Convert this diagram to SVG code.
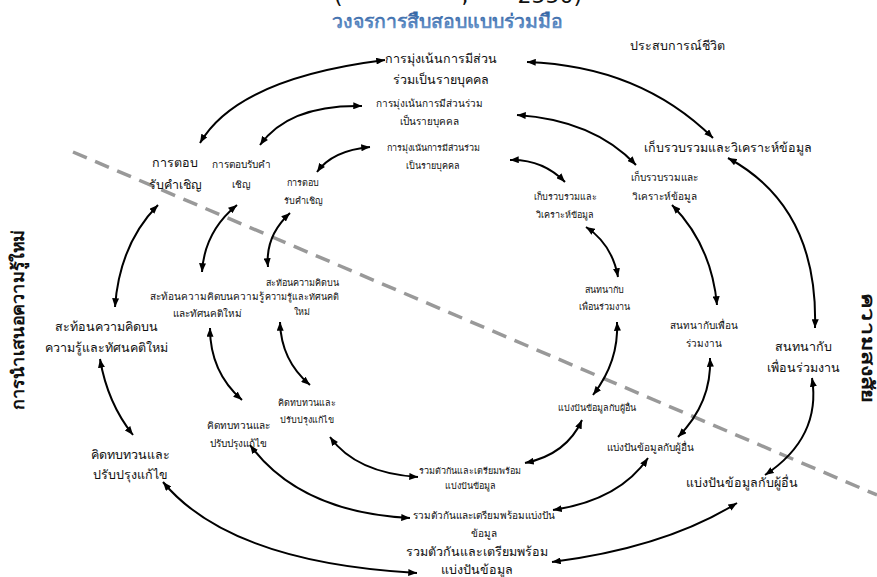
<svg xmlns="http://www.w3.org/2000/svg" width="877" height="577" viewBox="0 0 877 577">
<defs>
<marker id="ah" viewBox="0 0 10 8" refX="10" refY="4" markerWidth="9" markerHeight="7" markerUnits="userSpaceOnUse" orient="auto-start-reverse">
<path d="M0,0 L10,4 L0,8 z" fill="#000"/>
</marker>
<linearGradient id="tg" x1="0" y1="0" x2="0" y2="1">
<stop offset="0" stop-color="#2f5f9f"/>
<stop offset="1" stop-color="#74a0d4"/>
</linearGradient>
</defs>
<style>
text{font-family:"DejaVu Sans",sans-serif;fill:#111;text-anchor:middle}
.o{font-size:12.5px}
.m{font-size:10px}
.i{font-size:9px}
.side{font-size:17px;font-weight:bold}
.title{font-size:19.5px;font-weight:bold;fill:url(#tg)}
.c{fill:none;stroke:#000;stroke-width:2;marker-start:url(#ah);marker-end:url(#ah)}
.dash{fill:none;stroke:#999;stroke-width:3.5;stroke-dasharray:15 9}
</style>
<rect width="877" height="577" fill="#fff"/>
<line class="dash" x1="73" y1="152" x2="877" y2="495"/>
<text x="458" y="3" style="font-size:22px;white-space:pre">(                 ,       2550)</text>
<text class="title" x="447" y="28">วงจรการสืบสอบแบบร่วมมือ</text>
<text x="677" y="50" style="font-size:12.5px">ประสบการณ์ชีวิต</text>
<text class="side" transform="translate(24,320) rotate(-90)" textLength="180" lengthAdjust="spacingAndGlyphs">การนำเสนอความรู้ใหม่</text>
<text class="side" transform="translate(862,348) rotate(90)" textLength="110" lengthAdjust="spacingAndGlyphs">ความสงสัย</text>

<g id="o-focus"><text class="o" x="441" y="63">การมุ่งเน้นการมีส่วน</text><text class="o" x="441" y="84">ร่วมเป็นรายบุคคล</text></g>
<g id="o-collect"><text class="o" x="728" y="152">เก็บรวบรวมและวิเคราะห์ข้อมูล</text></g>
<g id="o-talk"><text class="o" x="803" y="351">สนทนากับ</text><text class="o" x="803" y="372">เพื่อนร่วมงาน</text></g>
<g id="o-share"><text class="o" x="742" y="487">แบ่งปันข้อมูลกับผู้อื่น</text></g>
<g id="o-gather"><text class="o" x="477" y="556">รวมตัวกันและเตรียมพร้อม</text><text class="o" x="477" y="574">แบ่งปันข้อมูล</text></g>
<g id="o-review"><text class="o" x="130" y="459">คิดทบทวนและ</text><text class="o" x="130" y="479">ปรับปรุงแก้ไข</text></g>
<g id="o-reflect"><text class="o" x="106" y="331">สะท้อนความคิดบน</text><text class="o" x="106" y="352">ความรู้และทัศนคติใหม่</text></g>
<g id="o-invite"><text class="o" x="175" y="167">การตอบ</text><text class="o" x="175" y="189">รับคำเชิญ</text></g>

<g id="m-focus"><text class="m" x="429" y="107">การมุ่งเน้นการมีส่วนร่วม</text><text class="m" x="429" y="125">เป็นรายบุคคล</text></g>
<g id="m-collect"><text class="m" x="664" y="181">เก็บรวบรวมและ</text><text class="m" x="664" y="200">วิเคราะห์ข้อมูล</text></g>
<g id="m-talk"><text class="m" x="704" y="329">สนทนากับเพื่อน</text><text class="m" x="704" y="347">ร่วมงาน</text></g>
<g id="m-share"><text class="m" x="650" y="451">แบ่งปันข้อมูลกับผู้อื่น</text></g>
<g id="m-gather"><text class="m" x="484" y="519">รวมตัวกันและเตรียมพร้อมแบ่งปัน</text><text class="m" x="484" y="537">ข้อมูล</text></g>
<g id="m-review"><text class="m" x="238" y="429">คิดทบทวนและ</text><text class="m" x="238" y="447">ปรับปรุงแก้ไข</text></g>
<g id="m-reflect"><text class="m" x="207" y="300">สะท้อนความคิดบนความรู้</text><text class="m" x="207" y="317">และทัศนคติใหม่</text></g>
<g id="m-invite"><text class="m" x="241" y="168">การตอบรับคำ</text><text class="m" x="241" y="188">เชิญ</text></g>

<g id="i-focus"><text class="i" x="433" y="151">การมุ่งเน้นการมีส่วนร่วม</text><text class="i" x="433" y="169">เป็นรายบุคคล</text></g>
<g id="i-collect"><text class="i" x="565" y="200">เก็บรวบรวมและ</text><text class="i" x="565" y="218">วิเคราะห์ข้อมูล</text></g>
<g id="i-talk"><text class="i" x="604" y="293">สนทนากับ</text><text class="i" x="604" y="310">เพื่อนร่วมงาน</text></g>
<g id="i-share"><text class="i" x="597" y="411">แบ่งปันข้อมูลกับผู้อื่น</text></g>
<g id="i-gather"><text class="i" x="470" y="474">รวมตัวกันและเตรียมพร้อม</text><text class="i" x="470" y="489">แบ่งปันข้อมูล</text></g>
<g id="i-review"><text class="i" x="307" y="406">คิดทบทวนและ</text><text class="i" x="307" y="423">ปรับปรุงแก้ไข</text></g>
<g id="i-reflect"><text class="i" x="302" y="286">สะท้อนความคิดบน</text><text class="i" x="302" y="300">ความรู้และทัศนคติ</text><text class="i" x="302" y="315">ใหม่</text></g>
<g id="i-invite"><text class="i" x="303" y="186">การตอบ</text><text class="i" x="303" y="204">รับคำเชิญ</text></g>

<g id="connectors">
<path class="c" d="M200,143 Q237.5,78.5 385,60"/>
<path class="c" d="M527,62 Q640,66 713,138"/>
<path class="c" d="M728,158 Q818.5,207 815,328"/>
<path class="c" d="M812,378 Q821.5,437.5 765,475"/>
<path class="c" d="M737,503 Q665.5,547.5 552,562"/>
<path class="c" d="M417,573 Q230,562.5 163,482"/>
<path class="c" d="M133,435 Q107.5,403 100,359"/>
<path class="c" d="M115,307 Q119.5,244 158,205"/>

<path class="c" d="M260,145 Q289,104.5 362,106"/>
<path class="c" d="M517,115 Q593.5,120 636,165"/>
<path class="c" d="M672,205 Q711.5,245 717,305"/>
<path class="c" d="M710,358 Q712,402.5 678,437"/>
<path class="c" d="M648,458 Q619.5,500 553,510"/>
<path class="c" d="M410,518 Q300,512.5 250,445"/>
<path class="c" d="M242,400 Q210,372 210,328"/>
<path class="c" d="M202,272 Q204.5,231.5 237,205"/>

<path class="c" d="M317,172 Q332.5,150.5 370,147"/>
<path class="c" d="M510,160 Q542.5,159 565,182"/>
<path class="c" d="M586,227 Q612,244 618,277"/>
<path class="c" d="M617,322 Q619,361.5 593,395"/>
<path class="c" d="M582,420 Q566.5,454.5 525,463"/>
<path class="c" d="M418,477 Q356,473 330,437"/>
<path class="c" d="M310,385 Q281,360.5 280,322"/>
<path class="c" d="M268,267 Q265,236 290,213"/>
</g>
</svg>
